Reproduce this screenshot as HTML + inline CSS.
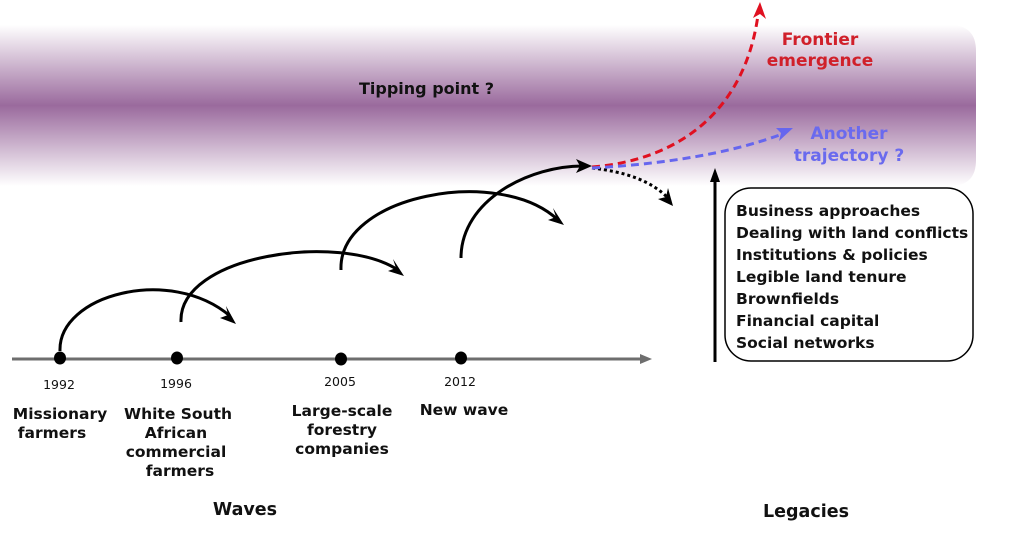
<!DOCTYPE html>
<html><head><style>
html,body{margin:0;padding:0;background:#fff;width:1024px;height:536px;overflow:hidden}
svg text{font-family:"DejaVu Sans","Liberation Sans",sans-serif;font-weight:bold}
</style></head><body>
<svg width="1024" height="536" viewBox="0 0 1024 536" xmlns="http://www.w3.org/2000/svg">
<defs>
<linearGradient id="band" x1="0" y1="0" x2="0" y2="1">
<stop offset="0" stop-color="#fff"/>
<stop offset="0.5" stop-color="#9a6a9d"/>
<stop offset="1" stop-color="#fff"/>
</linearGradient>
</defs>
<path d="M0 25 H950 Q976 25 976 51 V160 Q976 186 950 186 H0 Z" fill="url(#band)"/>
<text x="359" y="94" font-size="16" fill="#111">Tipping point ?</text>

<line x1="12" y1="359" x2="642" y2="359" stroke="#6e6e6e" stroke-width="3"/>
<polygon points="652,359 640,354 640,364" fill="#6e6e6e"/>
<g fill="#000">
<ellipse cx="60" cy="358" rx="6" ry="6.5"/>
<ellipse cx="177" cy="358" rx="6" ry="6.5"/>
<ellipse cx="341" cy="359" rx="6" ry="6.5"/>
<ellipse cx="461" cy="358" rx="6" ry="6.5"/>
</g>
<g font-size="12.5" fill="#111" text-anchor="middle">
<text x="59" y="389" style="font-weight:normal">1992</text>
<text x="176" y="388" style="font-weight:normal">1996</text>
<text x="340" y="386" style="font-weight:normal">2005</text>
<text x="460" y="386" style="font-weight:normal">2012</text>
</g>
<g font-size="15.5" fill="#111" text-anchor="middle">
<text x="60" y="419">Missionary</text>
<text x="52" y="438">farmers</text>
<text x="178" y="419">White South</text>
<text x="176" y="438">African</text>
<text x="176" y="457">commercial</text>
<text x="180" y="476">farmers</text>
<text x="342" y="416">Large-scale</text>
<text x="342" y="435">forestry</text>
<text x="342" y="454">companies</text>
<text x="464" y="415">New wave</text>
<text x="245" y="515" font-size="17.5">Waves</text>
<text x="806" y="517" font-size="17.5">Legacies</text>
</g>

<g fill="none" stroke="#000" stroke-width="3">
<path d="M60 351 C58 295 170 265 230 316"/>
<path d="M181 322 C178 255 340 232 398 270"/>
<path d="M341 270 C338 195 500 165 558 220"/>
<path d="M461 258 C461 200 530 165 585 166"/>
</g>
<g fill="#000">
<polygon points="236,324 220,318 228,315 226,306"/>
<polygon points="404,276 388,271 396,268 393,259"/>
<polygon points="564,225 548,220 556,217 553,208"/>
<polygon points="592,166 576,159 580,166 576,173"/>
</g>

<path d="M592 168 C625 172 650 180 668 198" fill="none" stroke="#000" stroke-width="3" stroke-dasharray="3,3"/>
<polygon points="673,206 658,199 666,197 668,188" fill="#000"/>
<path d="M592 167 C680 160 745 110 758 15" fill="none" stroke="#e01020" stroke-width="3" stroke-dasharray="8,5"/>
<polygon points="760,2 753,18 760,14 766,19" fill="#e01020"/>
<path d="M592 168 C680 163 740 150 785 133" fill="none" stroke="#6666ee" stroke-width="3" stroke-dasharray="8,5"/>
<polygon points="793,128 776,128 781,133 779,141" fill="#6666ee"/>

<g font-size="17" text-anchor="middle">
<text x="820" y="45" fill="#d0202a">Frontier</text>
<text x="820" y="66" fill="#d0202a">emergence</text>
<text x="849" y="139" fill="#6a6aee">Another</text>
<text x="849" y="161" fill="#6a6aee">trajectory ?</text>
</g>

<line x1="715" y1="362" x2="715" y2="180" stroke="#000" stroke-width="3"/>
<polygon points="715,168 710,182 720,182" fill="#000"/>
<rect x="725" y="188" width="248" height="173" rx="26" ry="26" fill="#fff" stroke="#000" stroke-width="1.5"/>
<g font-size="15.5" fill="#111">
<text x="736" y="216">Business approaches</text>
<text x="736" y="238">Dealing with land conflicts</text>
<text x="736" y="260">Institutions &amp; policies</text>
<text x="736" y="282">Legible land tenure</text>
<text x="736" y="304">Brownfields</text>
<text x="736" y="326">Financial capital</text>
<text x="736" y="348">Social networks</text>
</g>
</svg>
</body></html>
